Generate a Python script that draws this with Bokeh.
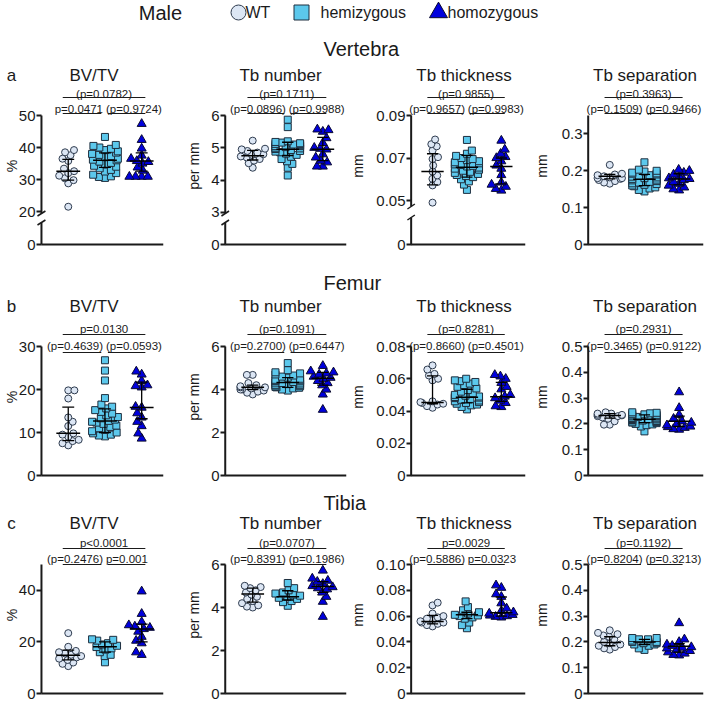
import numpy as np
from bokeh.plotting import figure
from bokeh.layouts import column, row
from bokeh.models import FixedTicker, Range1d
from bokeh.core.properties import value
from bokeh.embed import file_html
from bokeh.resources import INLINE

# ---------------------------------------------------------------- texts
sex_label = "Male"
group_names = ["WT", "hemizygous", "homozygous"]
site_names = ["Vertebra", "Femur", "Tibia"]
site_letters = ["a", "b", "c"]
measure_names = ["BV/TV", "Tb number", "Tb thickness", "Tb separation"]
measure_units = ["%", "per mm", "mm", "mm"]

# ---------------------------------------------------------------- Vertebra
v_bv_wt = [21.5, 28.8, 29.8, 30.4, 31.2, 32.0, 32.6, 33.4, 35.8, 36.5, 37.6, 38.5, 39.2]
v_bv_het = [30.5, 30.8, 31.0, 31.5, 32.0, 32.5, 33.0, 33.5, 34.0, 34.3, 34.8, 35.2, 35.6, 36.0,
            36.2, 36.5, 37.0, 37.3, 37.7, 38.0, 38.4, 38.8, 39.2, 39.6, 40.0, 40.5, 40.8, 43.3]
v_bv_hom = [30.9, 30.9, 30.9, 30.9, 32.8, 33.8, 35.0, 35.5, 35.8, 36.5, 37.5, 39.7, 42.4, 47.4]
v_bv_med = [32.6, 36.0, 35.8]
v_bv_q1 = [29.8, 33.8, 32.6]
v_bv_q3 = [36.3, 38.3, 38.3]
v_bv_p = ["(p=0.0782)", "p=0.0471", "(p=0.9724)"]
v_bv_ticks = [9.7, 20, 30, 40, 50]
v_bv_ticklabels = ["0", "20", "30", "40", "50"]

v_tn_wt = [4.38, 4.52, 4.6, 4.65, 4.7, 4.73, 4.78, 4.8, 4.85, 4.9, 4.95, 4.97, 5.22]
v_tn_het = [4.14, 4.38, 4.5, 4.58, 4.65, 4.72, 4.78, 4.82, 4.86, 4.88, 4.9, 4.93, 4.96, 4.98,
            5.0, 5.02, 5.05, 5.05, 5.08, 5.1, 5.12, 5.12, 5.14, 5.16, 5.18, 5.2, 5.64, 5.87]
v_tn_hom = [4.42, 4.42, 4.55, 4.6, 4.7, 4.8, 4.95, 4.97, 5.0, 5.15, 5.3, 5.5, 5.55, 5.57]
v_tn_med = [4.75, 4.95, 4.95]
v_tn_q1 = [4.62, 4.76, 4.6]
v_tn_q3 = [4.92, 5.17, 5.32]
v_tn_p = ["(p=0.1711)", "(p=0.0896)", "(p=0.9988)"]
v_tn_ticks = [2.0, 3, 4, 5, 6]
v_tn_ticklabels = ["0", "3", "4", "5", "6"]

v_tt_wt = [0.049, 0.0571, 0.0587, 0.0602, 0.0618, 0.0636, 0.0665, 0.0695, 0.0704, 0.0735,
           0.0755, 0.0765, 0.0787]
v_tt_het = [0.055, 0.0575, 0.059, 0.06, 0.061, 0.0615, 0.062, 0.0625, 0.063, 0.0635, 0.064,
            0.0645, 0.065, 0.0655, 0.066, 0.0663, 0.0667, 0.067, 0.0675, 0.068, 0.0685, 0.069,
            0.0695, 0.070, 0.071, 0.072, 0.0735, 0.0785]
v_tt_hom = [0.0547, 0.0555, 0.0565, 0.0575, 0.0585, 0.062, 0.065, 0.0665, 0.0685, 0.07,
            0.0705, 0.072, 0.074, 0.0782]
v_tt_med = [0.0636, 0.0657, 0.066]
v_tt_q1 = [0.0574, 0.061, 0.0578]
v_tt_q3 = [0.072, 0.0712, 0.070]
v_tt_p = ["(p=0.9855)", "(p=0.9657)", "(p=0.9983)"]
v_tt_ticks = [0.0293, 0.05, 0.07, 0.09]
v_tt_ticklabels = ["0", "0.05", "0.07", "0.09"]

v_ts_wt = [0.165, 0.168, 0.172, 0.175, 0.178, 0.18, 0.18, 0.182, 0.185, 0.188, 0.19, 0.192, 0.216]
v_ts_het = [0.144, 0.148, 0.152, 0.155, 0.158, 0.16, 0.162, 0.164, 0.166, 0.168, 0.17, 0.172,
            0.174, 0.176, 0.178, 0.18, 0.182, 0.184, 0.186, 0.188, 0.19, 0.192, 0.193, 0.195,
            0.198, 0.2, 0.203, 0.223]
v_ts_hom = [0.147, 0.15, 0.155, 0.16, 0.165, 0.17, 0.175, 0.178, 0.18, 0.185, 0.19, 0.195, 0.2, 0.203]
v_ts_med = [0.185, 0.177, 0.178]
v_ts_q1 = [0.178, 0.16, 0.162]
v_ts_q3 = [0.19, 0.19, 0.192]
v_ts_p = ["(p=0.3963)", "(p=0.1509)", "(p=0.9466)"]
v_ts_ticks = [0, 0.1, 0.2, 0.3]
v_ts_ticklabels = ["0", "0.1", "0.2", "0.3"]

# ---------------------------------------------------------------- Femur
f_bv_wt = [7.0, 7.5, 8.0, 8.3, 9.0, 9.5, 9.8, 11.5, 12.5, 13.5, 17.9, 19.8, 19.8]
f_bv_het = [9.1, 9.3, 9.5, 9.8, 10.0, 10.3, 10.6, 11.0, 11.3, 11.6, 12.0, 12.3, 12.5, 12.7,
            13.0, 13.3, 13.6, 14.0, 14.4, 14.8, 15.2, 15.6, 16.0, 16.5, 18.0, 22.1, 24.4, 26.8]
f_bv_hom = [8.6, 9.8, 11.5, 12.5, 13.5, 14.5, 15.8, 16.0, 20.5, 20.8, 21.0, 22.0, 23.5, 24.2]
f_bv_med = [9.8, 12.7, 15.8]
f_bv_q1 = [8.1, 10.0, 13.2]
f_bv_q3 = [15.9, 15.5, 21.7]
f_bv_p = ["p=0.0130", "(p=0.4639)", "(p=0.0593)"]
f_bv_ticks = [0, 10, 20, 30]
f_bv_ticklabels = ["0", "10", "20", "30"]

f_tn_wt = [3.77, 3.85, 3.9, 3.95, 4.0, 4.0, 4.05, 4.1, 4.1, 4.15, 4.2, 4.3, 4.68, 4.68]
f_tn_het = [3.95, 4.0, 4.05, 4.08, 4.1, 4.12, 4.15, 4.18, 4.2, 4.22, 4.25, 4.28, 4.3, 4.32,
            4.35, 4.38, 4.4, 4.43, 4.45, 4.5, 4.55, 4.6, 4.65, 4.7, 4.75, 4.8, 4.9, 5.23]
f_tn_hom = [3.06, 3.77, 4.0, 4.2, 4.3, 4.4, 4.5, 4.55, 4.6, 4.7, 4.75, 4.8, 4.85, 5.1]
f_tn_med = [4.1, 4.32, 4.52]
f_tn_q1 = [4.0, 4.1, 4.2]
f_tn_q3 = [4.2, 4.55, 4.8]
f_tn_p = ["(p=0.1091)", "(p=0.2700)", "(p=0.6447)"]
f_tn_ticks = [0, 2, 4, 6]
f_tn_ticklabels = ["0", "2", "4", "6"]

f_tt_wt = [0.042, 0.043, 0.044, 0.0445, 0.045, 0.0455, 0.046, 0.059, 0.06, 0.062, 0.063,
           0.0657, 0.0683]
f_tt_het = [0.041, 0.0425, 0.0435, 0.044, 0.0445, 0.045, 0.0455, 0.046, 0.0465, 0.047, 0.0475,
            0.048, 0.0483, 0.0487, 0.049, 0.0495, 0.05, 0.051, 0.052, 0.053, 0.054, 0.055,
            0.056, 0.057, 0.058, 0.0585, 0.059, 0.060]
f_tt_hom = [0.0425, 0.043, 0.045, 0.0465, 0.048, 0.049, 0.05, 0.0535, 0.055, 0.0575, 0.06,
            0.0615, 0.0624]
f_tt_med = [0.0453, 0.0485, 0.0489]
f_tt_q1 = [0.0445, 0.045, 0.046]
f_tt_q3 = [0.0618, 0.0535, 0.0578]
f_tt_p = ["(p=0.8281)", "(p=0.8660)", "(p=0.4501)"]
f_tt_ticks = [0, 0.02, 0.04, 0.06, 0.08]
f_tt_ticklabels = ["0", "0.02", "0.04", "0.06", "0.08"]

f_ts_wt = [0.197, 0.197, 0.21, 0.22, 0.225, 0.23, 0.23, 0.233, 0.235, 0.235, 0.24, 0.24, 0.245]
f_ts_het = [0.171, 0.19, 0.195, 0.198, 0.2, 0.203, 0.205, 0.207, 0.209, 0.211, 0.213, 0.215,
            0.217, 0.218, 0.219, 0.221, 0.223, 0.225, 0.227, 0.229, 0.231, 0.233, 0.235, 0.237,
            0.239, 0.241, 0.243, 0.245]
f_ts_hom = [0.178, 0.18, 0.185, 0.188, 0.19, 0.195, 0.2, 0.205, 0.21, 0.22, 0.235, 0.262, 0.323]
f_ts_med = [0.233, 0.218, 0.21]
f_ts_q1 = [0.222, 0.205, 0.19]
f_ts_q3 = [0.24, 0.235, 0.23]
f_ts_p = ["(p=0.2931)", "(p=0.3465)", "(p=0.9122)"]
f_ts_ticks = [0, 0.1, 0.2, 0.3, 0.4, 0.5]
f_ts_ticklabels = ["0", "0.1", "0.2", "0.3", "0.4", "0.5"]

# ---------------------------------------------------------------- Tibia
t_bv_wt = [10.6, 11.5, 12.0, 13.0, 13.5, 14.0, 14.5, 15.0, 15.5, 16.0, 16.5, 18.1, 23.4]
t_bv_het = [12.1, 14.5, 15.0, 16.0, 17.0, 17.5, 18.0, 18.5, 19.0, 19.5, 20.5, 20.8, 21.0]
t_bv_hom = [15.0, 16.0, 19.5, 20.5, 22.0, 24.0, 25.0, 25.5, 26.0, 26.5, 27.7, 30.9, 39.6]
t_bv_med = [14.8, 18.1, 25.0]
t_bv_q1 = [13.0, 16.0, 20.0]
t_bv_q3 = [16.8, 20.0, 26.9]
t_bv_p = ["p<0.0001", "(p=0.2476)", "p=0.001"]
t_bv_ticks = [0, 20, 40]
t_bv_ticklabels = ["0", "20", "40"]

t_tn_wt = [4.0, 4.04, 4.1, 4.2, 4.3, 4.4, 4.5, 4.6, 4.7, 4.8, 4.9, 4.95, 5.01]
t_tn_het = [4.08, 4.25, 4.3, 4.4, 4.45, 4.5, 4.55, 4.6, 4.65, 4.7, 4.8, 4.9, 5.14]
t_tn_hom = [3.57, 4.27, 4.5, 4.7, 4.85, 4.9, 4.95, 5.0, 5.1, 5.2, 5.25, 5.35, 5.72]
t_tn_med = [4.63, 4.5, 4.98]
t_tn_q1 = [4.25, 4.35, 4.7]
t_tn_q3 = [4.9, 4.78, 5.2]
t_tn_p = ["(p=0.0707)", "(p=0.8391)", "(p=0.1986)"]
t_tn_ticks = [0, 2, 4, 6]
t_tn_ticklabels = ["0", "2", "4", "6"]

t_tt_wt = [0.052, 0.053, 0.054, 0.055, 0.055, 0.056, 0.057, 0.058, 0.059, 0.06, 0.062, 0.0683, 0.0704]
t_tt_het = [0.0506, 0.053, 0.055, 0.058, 0.059, 0.06, 0.0605, 0.061, 0.062, 0.063, 0.0645, 0.067, 0.0714]
t_tt_hom = [0.059, 0.0595, 0.06, 0.0605, 0.061, 0.062, 0.063, 0.064, 0.066, 0.07, 0.075, 0.077,
            0.082, 0.0839]
t_tt_med = [0.0558, 0.061, 0.0626]
t_tt_q1 = [0.054, 0.058, 0.06]
t_tt_q3 = [0.0605, 0.063, 0.0748]
t_tt_p = ["p=0.0029", "(p=0.5886)", "p=0.0323"]
t_tt_ticks = [0, 0.02, 0.04, 0.06, 0.08, 0.10]
t_tt_ticklabels = ["0", "0.02", "0.04", "0.06", "0.08", "0.10"]

t_ts_wt = [0.17, 0.175, 0.18, 0.185, 0.19, 0.195, 0.2, 0.21, 0.22, 0.225, 0.23, 0.235, 0.245]
t_ts_het = [0.169, 0.175, 0.185, 0.19, 0.19, 0.195, 0.195, 0.2, 0.2, 0.205, 0.21, 0.21, 0.215, 0.215]
t_ts_hom = [0.148, 0.15, 0.155, 0.16, 0.165, 0.17, 0.175, 0.178, 0.18, 0.185, 0.19, 0.2, 0.21, 0.273]
t_ts_med = [0.198, 0.2, 0.183]
t_ts_q1 = [0.185, 0.19, 0.16]
t_ts_q3 = [0.22, 0.21, 0.193]
t_ts_p = ["(p=0.1192)", "(p=0.8204)", "(p=0.3213)"]
t_ts_ticks = [0, 0.1, 0.2, 0.3, 0.4, 0.5]
t_ts_ticklabels = ["0", "0.1", "0.2", "0.3", "0.4", "0.5"]

# axis tops (where the drawn y axis line ends)
axis_tops = [[50, 6, 0.09, 0.35], [30, 6, 0.08, 0.5], [50, 6, 0.10, 0.5]]

# ---------------------------------------------------------------- style / layout
FONT = "Liberation Sans"
INK = "#1a1a1a"
group_markers = ["circle", "square", "triangle"]
group_sizes = [7, 7, 9]
group_fill = ["#dce6f4", "#5cc8ec", "#0000dd"]
group_line = ["#2e3b4e", "#1e2e3e", "#0a0a30"]

TS = 129   # px from x-axis to axis top
BP = 2     # px below x axis inside frame
AX = 5     # px from frame edge to the drawn y axis line
GAP = 37   # px between group centres

# width, min_border_left, min_border_right, wt offset px, label standoff, title shift
COLS = [(183, 35, 20, 27, -4, -8),
        (164, 30, 1, 29, 6, -2),
        (183, 50, 5, 23, 7, 0),
        (175, 45, 2, 23, 9, 3)]
# frame height, top p label, top bracket, lower p labels, lower brackets (px from frame top), bottom border
ROWS = [(161, 8, 12, 23, 28, 7),
        (161, 12, 18, 29, 36, 7),
        (161, 8, 14, 24, 30, 6)]
# header strips: height, heading y, titles y
STRIPS = [(61, 24, 51), (63, 29, 53), (50, 18, 39)]
HEAD_X = 323
LETTER_X = 11
BREAKS = {(0, 0): (22, 31), (0, 1): (22, 31), (0, 2): (27, 38)}

panel_data = [
    [(v_bv_wt, v_bv_het, v_bv_hom, v_bv_med, v_bv_q1, v_bv_q3, v_bv_p, v_bv_ticks, v_bv_ticklabels),
     (v_tn_wt, v_tn_het, v_tn_hom, v_tn_med, v_tn_q1, v_tn_q3, v_tn_p, v_tn_ticks, v_tn_ticklabels),
     (v_tt_wt, v_tt_het, v_tt_hom, v_tt_med, v_tt_q1, v_tt_q3, v_tt_p, v_tt_ticks, v_tt_ticklabels),
     (v_ts_wt, v_ts_het, v_ts_hom, v_ts_med, v_ts_q1, v_ts_q3, v_ts_p, v_ts_ticks, v_ts_ticklabels)],
    [(f_bv_wt, f_bv_het, f_bv_hom, f_bv_med, f_bv_q1, f_bv_q3, f_bv_p, f_bv_ticks, f_bv_ticklabels),
     (f_tn_wt, f_tn_het, f_tn_hom, f_tn_med, f_tn_q1, f_tn_q3, f_tn_p, f_tn_ticks, f_tn_ticklabels),
     (f_tt_wt, f_tt_het, f_tt_hom, f_tt_med, f_tt_q1, f_tt_q3, f_tt_p, f_tt_ticks, f_tt_ticklabels),
     (f_ts_wt, f_ts_het, f_ts_hom, f_ts_med, f_ts_q1, f_ts_q3, f_ts_p, f_ts_ticks, f_ts_ticklabels)],
    [(t_bv_wt, t_bv_het, t_bv_hom, t_bv_med, t_bv_q1, t_bv_q3, t_bv_p, t_bv_ticks, t_bv_ticklabels),
     (t_tn_wt, t_tn_het, t_tn_hom, t_tn_med, t_tn_q1, t_tn_q3, t_tn_p, t_tn_ticks, t_tn_ticklabels),
     (t_tt_wt, t_tt_het, t_tt_hom, t_tt_med, t_tt_q1, t_tt_q3, t_tt_p, t_tt_ticks, t_tt_ticklabels),
     (t_ts_wt, t_ts_het, t_ts_hom, t_ts_med, t_ts_q1, t_ts_q3, t_ts_p, t_ts_ticks, t_ts_ticklabels)],
]


def swarm_px(vals, px_per_unit, d=6.2, max_off=13.0):
    """Deterministic beeswarm offsets (px) computed from the values."""
    y = np.asarray(vals, dtype=float) * px_per_unit
    order = np.argsort(y, kind="stable")
    xo = np.zeros(len(y))
    done = []
    for k, i in enumerate(order):
        forb, cands = [], [0.0]
        for j in done:
            dy = abs(y[i] - y[j])
            if dy < d:
                dx = float(np.sqrt(d * d - dy * dy))
                forb.append((xo[j] - dx, xo[j] + dx))
                cands.extend([xo[j] - dx, xo[j] + dx])
        ok = [c for c in cands if all(not (a + 1e-6 < c < b - 1e-6) for a, b in forb)]
        sgn = 1 if k % 2 == 0 else -1
        best = min(ok, key=lambda c: (round(abs(c), 4), -sgn * c))
        xo[i] = float(np.clip(best, -max_off, max_off))
        done.append(i)
    return xo


def txt(p, x, y, s, size, align="center"):
    p.text(x=[x], y=[y], text=[s], text_font=value(FONT), text_font_size=size,
           text_align=align, text_baseline="middle", text_color=INK)


def make_panel(r, c):
    wt_, het_, hom_, med, q1, q3, pv, ticks, ticklabels = panel_data[r][c]
    width, bl, br, wt_px, lstand, tshift = COLS[c]
    fh, t_tl, t_tb, t_ll, t_lb, bb = ROWS[r]
    fw = width - bl - br
    y0 = ticks[0]
    ytop = axis_tops[r][c]
    dpp = (ytop - y0) / TS
    ys = y0 - BP * dpp
    ye = ys + fh * dpp
    xs = 1 - (wt_px + AX) / GAP
    xe = xs + fw / GAP
    xa = xs + AX / GAP

    def yt(px):
        return ye - px * dpp

    p = figure(width=width, height=fh + bb, x_range=Range1d(xs, xe), y_range=Range1d(ys, ye),
               x_axis_type=None, output_backend="svg", toolbar_location=None, title=None,
               min_border_left=bl, min_border_right=br, min_border_top=0, min_border_bottom=bb)
    p.grid.visible = False
    p.outline_line_color = None
    ax = p.yaxis[0]
    ax.ticker = FixedTicker(ticks=ticks)
    ax.major_label_overrides = dict(zip(ticks, ticklabels))
    ax.axis_line_color = None
    ax.major_tick_in = AX
    ax.major_tick_out = 0
    ax.major_tick_line_width = 2
    ax.major_tick_line_color = INK
    ax.minor_tick_line_color = None
    ax.major_label_standoff = 1
    ax.major_label_text_font = FONT
    ax.major_label_text_font_size = "15px"
    ax.major_label_text_color = INK
    ax.axis_label = measure_units[c]
    ax.axis_label_text_font = FONT
    ax.axis_label_text_font_size = "14px"
    ax.axis_label_text_font_style = "normal"
    ax.axis_label_text_color = INK
    ax.axis_label_standoff = lstand

    # axis lines (with optional break)
    brk = BREAKS.get((r, c))
    if brk:
        lo, hi = y0 + brk[0] * dpp, y0 + brk[1] * dpp
        p.segment(x0=[xa, xa], y0=[y0, hi], x1=[xa, xa], y1=[lo, ytop], line_width=2, line_color=INK)
        p.segment(x0=[xa - 4 / GAP] * 2, y0=[lo - 2.5 * dpp, hi - 2.5 * dpp],
                  x1=[xa + 4 / GAP] * 2, y1=[lo + 2.5 * dpp, hi + 2.5 * dpp],
                  line_width=1.5, line_color=INK)
    else:
        p.segment(x0=[xa], y0=[y0], x1=[xa], y1=[ytop], line_width=2, line_color=INK)
    p.segment(x0=[xa], y0=[y0], x1=[xe], y1=[y0], line_width=2, line_color=INK)

    # points
    for g, vals in enumerate([wt_, het_, hom_]):
        off = swarm_px(vals, 1 / dpp) / GAP
        p.scatter(x=list(g + 1 + off), y=vals, marker=group_markers[g], size=group_sizes[g],
                  fill_color=group_fill[g], line_color=group_line[g], line_width=1)
    # median and interquartile range
    gx = np.arange(1, 4)
    hw, cw = 12 / GAP, 6 / GAP
    p.segment(x0=list(gx - hw), y0=med, x1=list(gx + hw), y1=med, line_width=1.5, line_color="black")
    p.segment(x0=list(gx), y0=q1, x1=list(gx), y1=q3, line_width=1.3, line_color="black")
    p.segment(x0=list(gx - cw) * 2, y0=q1 + q3, x1=list(gx + cw) * 2, y1=q1 + q3,
              line_width=1.3, line_color="black")

    # p-value brackets
    tb0, tb1 = 1 - 0.15, 3 + 0.1
    p.segment(x0=[tb0, 1 - 0.15, 2 + 0.08], y0=[yt(t_tb), yt(t_lb), yt(t_lb)],
              x1=[tb1, 2 - 0.1, 3 + 0.1], y1=[yt(t_tb), yt(t_lb), yt(t_lb)],
              line_width=1.2, line_color=INK)
    txt(p, (tb0 + tb1) / 2, yt(t_tl), pv[0], "11.5px")
    txt(p, 2 - 2 / GAP, yt(t_ll), pv[1], "11.5px", "right")
    txt(p, 2 + 1 / GAP, yt(t_ll), pv[2], "11.5px", "left")
    return p


def strip(h):
    s = figure(width=705, height=h, x_range=Range1d(0, 705), y_range=Range1d(h, 0),
               x_axis_type=None, y_axis_type=None, output_backend="svg",
               toolbar_location=None, title=None, min_border=0)
    s.outline_line_color = None
    s.grid.visible = False
    return s


# x centre of each panel title, from the column geometry
title_x = []
left = 0
for (width, bl, br, wt_px, lstand, tshift) in COLS:
    fw = width - bl - br
    title_x.append(left + bl + AX + (fw - AX) / 2 + tshift)
    left += width

# legend strip
leg = strip(24)
txt(leg, 160, 12, sex_label, "20px")
leg_x = [238, 301, 438]
leg_tx = [245, 320, 447]
for g in range(3):
    leg.scatter(x=[leg_x[g]], y=[12], marker=group_markers[g], size=[15, 15, 18][g],
                fill_color=group_fill[g], line_color=group_line[g], line_width=1)
    txt(leg, leg_tx[g], 12, group_names[g], "16px", "left")

items = [leg]
for r in range(3):
    h, hy, ty = STRIPS[r]
    s = strip(h)
    txt(s, HEAD_X, hy, site_names[r], "20px", "left")
    txt(s, LETTER_X, ty, site_letters[r], "17px")
    for c in range(4):
        txt(s, title_x[c], ty, measure_names[c], "17px")
    items.append(s)
    items.append(row(*[make_panel(r, c) for c in range(4)]))

layout = column(*items)
open("out.html", "w").write(file_html(layout, INLINE))
